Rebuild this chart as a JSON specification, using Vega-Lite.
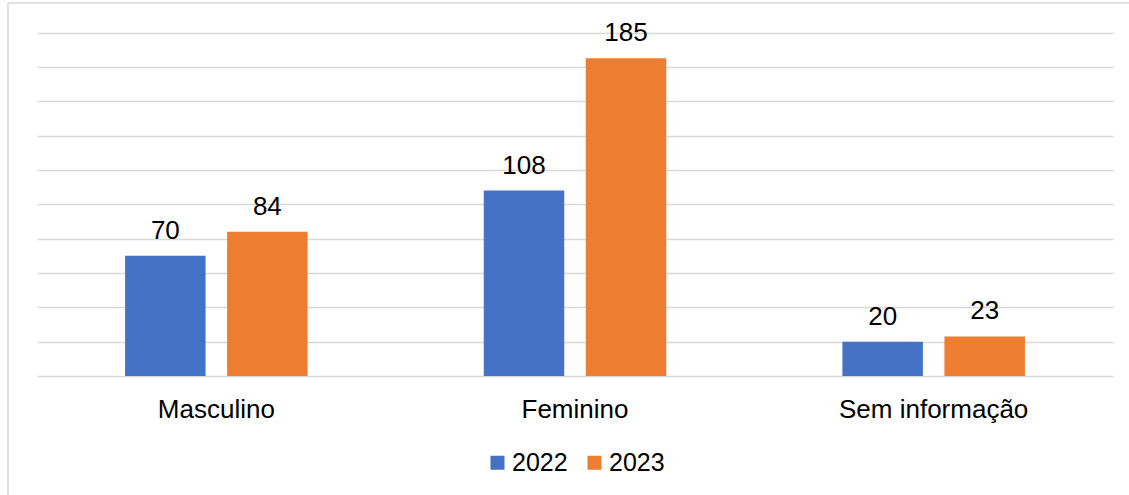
{
  "$schema": "https://vega.github.io/schema/vega-lite/v6.json",
  "autosize": "none",
  "width": 1121,
  "height": 492,
  "padding": {"left": 8, "top": 3, "right": 0, "bottom": 0},
  "background": "#ffffff",
  "config": {
    "font": "Liberation Sans",
    "view": {"stroke": "#d9d9d9", "strokeWidth": 1.5, "strokeDash": [1121, 1613, 492, 0]}
  },
  "data": {
    "values": [
      {"sexo": "Masculino", "ano": "2022", "casos": 70},
      {"sexo": "Masculino", "ano": "2023", "casos": 84},
      {"sexo": "Feminino", "ano": "2022", "casos": 108},
      {"sexo": "Feminino", "ano": "2023", "casos": 185},
      {"sexo": "Sem informação", "ano": "2022", "casos": 20},
      {"sexo": "Sem informação", "ano": "2023", "casos": 23}
    ]
  },
  "encoding": {
    "x": {
      "field": "sexo",
      "type": "nominal",
      "sort": ["Masculino", "Feminino", "Sem informação"],
      "scale": {"range": [29, 1105], "paddingInner": 0, "paddingOuter": 0},
      "axis": {
        "title": null,
        "orient": "bottom",
        "offset": -119,
        "domain": false,
        "ticks": false,
        "tickSize": 0,
        "labelAngle": 0,
        "labelFontSize": 26,
        "labelColor": "#000000",
        "labelBaseline": "alphabetic",
        "labelPadding": 41,
        "labelLimit": 0
      }
    },
    "xOffset": {
      "field": "ano",
      "type": "nominal",
      "scale": {"paddingInner": 0.211, "paddingOuter": 0.8636}
    },
    "y": {
      "field": "casos",
      "type": "quantitative",
      "scale": {"domain": [-69.29, 217.18], "nice": false, "zero": false},
      "axis": {
        "title": null,
        "domain": false,
        "ticks": false,
        "labels": false,
        "grid": true,
        "gridColor": "#d9d9d9",
        "gridWidth": 1.5,
        "values": [0, 20, 40, 60, 80, 100, 120, 140, 160, 180, 200]
      }
    }
  },
  "layer": [
    {
      "mark": {"type": "bar"},
      "encoding": {
        "y2": {"datum": 0},
        "color": {
          "field": "ano",
          "type": "nominal",
          "scale": {"domain": ["2022", "2023"], "range": ["#4472c4", "#ed7d31"]},
          "legend": {
            "title": null,
            "orient": "none",
            "direction": "horizontal",
            "legendX": 477,
            "legendY": 447,
            "padding": 0,
            "symbolType": "square",
            "symbolSize": 196,
            "symbolStrokeWidth": 0,
            "labelFontSize": 25,
            "labelColor": "#000000",
            "labelOffset": 2,
            "columnPadding": 14
          }
        }
      }
    },
    {
      "mark": {
        "type": "text",
        "baseline": "alphabetic",
        "dy": -17,
        "fontSize": 26,
        "color": "#000000"
      },
      "encoding": {
        "text": {"field": "casos", "type": "quantitative"}
      }
    }
  ]
}
